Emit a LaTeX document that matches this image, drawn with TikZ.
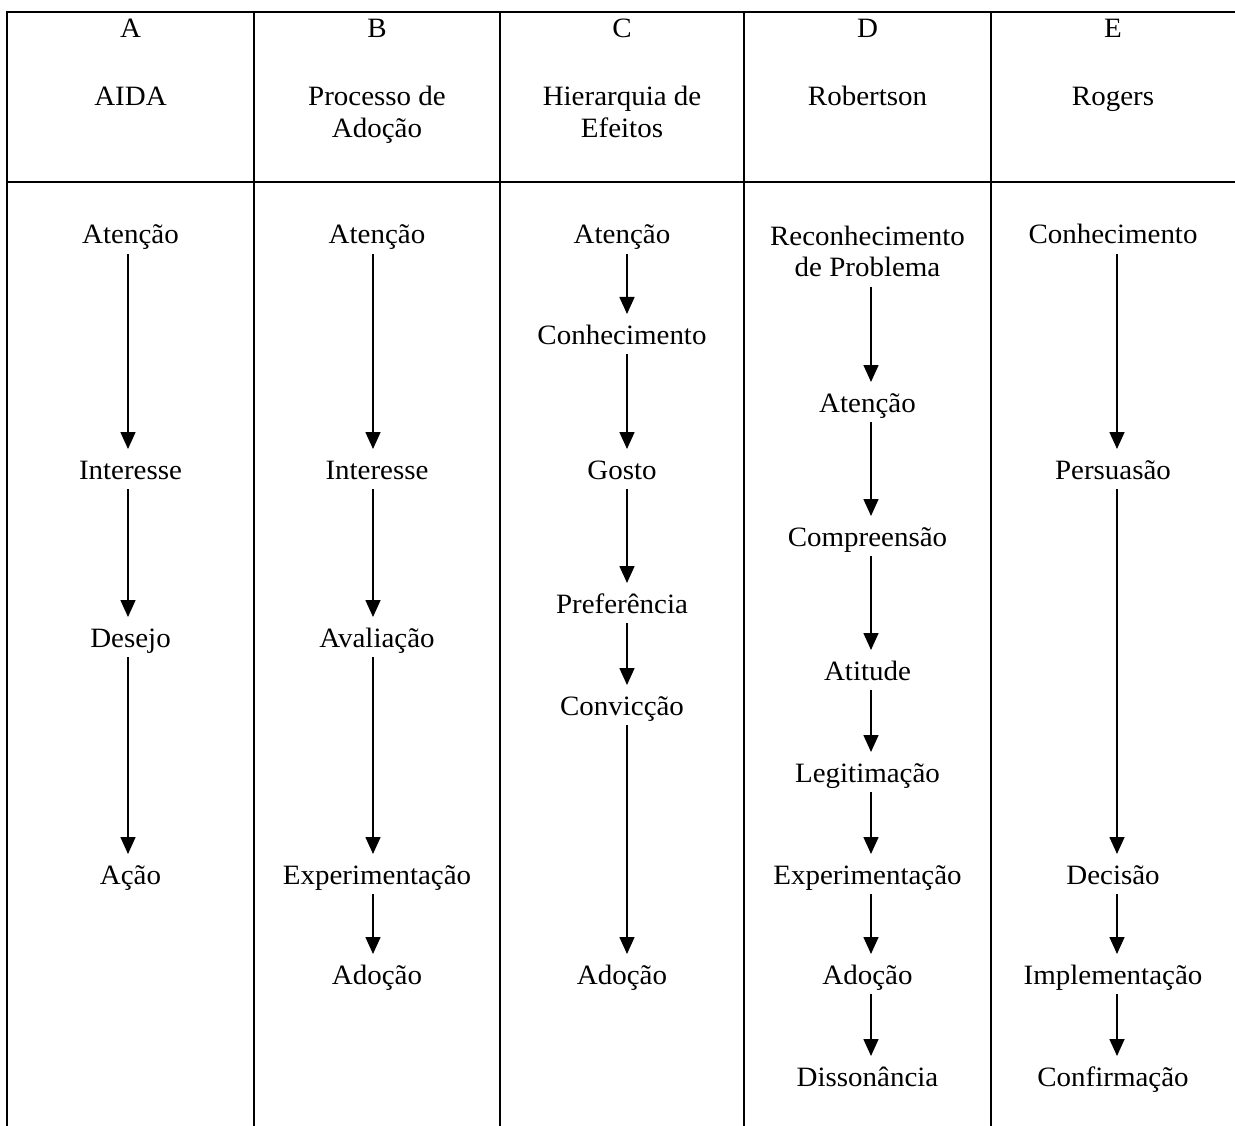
\documentclass[tikz,border=0pt]{standalone}
\usepackage{fontspec}
\setmainfont{Liberation Serif}[FakeStretch=1.035]
\usetikzlibrary{arrows.meta}

% downward arrow between two stacked labels, shifted sideways by #3 pt
\newcommand\linkdown[3]{%
  \draw[flow] ([xshift=#3pt,yshift=-10pt]#1.base) -- ([xshift=#3pt,yshift=30pt]#2.base);}

\begin{document}
\begin{tikzpicture}[x=1pt,y=-1pt,
  rule/.style={line width=2pt},
  flow/.style={line width=1.6pt,-{Triangle[width=15pt,length=17pt]}},
  lbl/.style={anchor=base,inner sep=0pt,font=\fontsize{28}{32}\selectfont}]

\useasboundingbox (0,0) rectangle (1235,1126);

% table rules
\draw[rule] (1235,12) -- (7,12) -- (7,1126);
\draw[rule] (7,182) -- (1235,182);
\foreach \cx in {254,500,744,991}
  \draw[rule] (\cx,12) -- (\cx,1126);

% column heads
\node[lbl] (hA) at (130.5,38) {A};
\node[lbl] (hB) at (377,38) {B};
\node[lbl] (hC) at (622,38) {C};
\node[lbl] (hD) at (867.5,38) {D};
\node[lbl] (hE) at (1113,38) {E};

\node[lbl] (tA) at (130.5,106) {AIDA};
\node[lbl] (tB) at (377,106) {\begin{tabular}[t]{@{}c@{}}Processo de\\Adoção\end{tabular}};
\node[lbl] (tC) at (622,106) {\begin{tabular}[t]{@{}c@{}}Hierarquia de\\Efeitos\end{tabular}};
\node[lbl] (tD) at (867.5,106) {Robertson};
\node[lbl] (tE) at (1113,106) {Rogers};

% A: AIDA
\node[lbl] (a1) at (130.5,244) {Atenção};
\node[lbl] (a2) at (130.5,479) {Interesse};
\node[lbl] (a3) at (130.5,647) {Desejo};
\node[lbl] (a4) at (130.5,884) {Ação};
\linkdown{a1}{a2}{-2.5}
\linkdown{a2}{a3}{-2.5}
\linkdown{a3}{a4}{-2.5}

% B: Processo de Adoção
\node[lbl] (b1) at (377,244) {Atenção};
\node[lbl] (b2) at (377,479) {Interesse};
\node[lbl] (b3) at (377,647) {Avaliação};
\node[lbl] (b4) at (377,884) {Experimentação};
\node[lbl] (b5) at (377,984) {Adoção};
\linkdown{b1}{b2}{-4}
\linkdown{b2}{b3}{-4}
\linkdown{b3}{b4}{-4}
\linkdown{b4}{b5}{-4}

% C: Hierarquia de Efeitos
\node[lbl] (c1) at (622,244) {Atenção};
\node[lbl] (c2) at (622,344) {Conhecimento};
\node[lbl] (c3) at (622,479) {Gosto};
\node[lbl] (c4) at (622,613) {Preferência};
\node[lbl] (c5) at (622,715) {Convicção};
\node[lbl] (c6) at (622,984) {Adoção};
\linkdown{c1}{c2}{5}
\linkdown{c2}{c3}{5}
\linkdown{c3}{c4}{5}
\linkdown{c4}{c5}{5}
\linkdown{c5}{c6}{5}

% D: Robertson
\node[lbl] (d1) at (867.5,277) {\begin{tabular}[b]{@{}c@{}}Reconhecimento\\de Problema\end{tabular}};
\node[lbl] (d2) at (867.5,412) {Atenção};
\node[lbl] (d3) at (867.5,546) {Compreensão};
\node[lbl] (d4) at (867.5,680) {Atitude};
\node[lbl] (d5) at (867.5,782) {Legitimação};
\node[lbl] (d6) at (867.5,884) {Experimentação};
\node[lbl] (d7) at (867.5,984) {Adoção};
\node[lbl] (d8) at (867.5,1086) {Dissonância};
\linkdown{d1}{d2}{3.5}
\linkdown{d2}{d3}{3.5}
\linkdown{d3}{d4}{3.5}
\linkdown{d4}{d5}{3.5}
\linkdown{d5}{d6}{3.5}
\linkdown{d6}{d7}{3.5}
\linkdown{d7}{d8}{3.5}

% E: Rogers
\node[lbl] (e1) at (1113,244) {Conhecimento};
\node[lbl] (e2) at (1113,479) {Persuasão};
\node[lbl] (e3) at (1113,884) {Decisão};
\node[lbl] (e4) at (1113,984) {Implementação};
\node[lbl] (e5) at (1113,1086) {Confirmação};
\linkdown{e1}{e2}{4}
\linkdown{e2}{e3}{4}
\linkdown{e3}{e4}{4}
\linkdown{e4}{e5}{4}

\end{tikzpicture}
\end{document}
